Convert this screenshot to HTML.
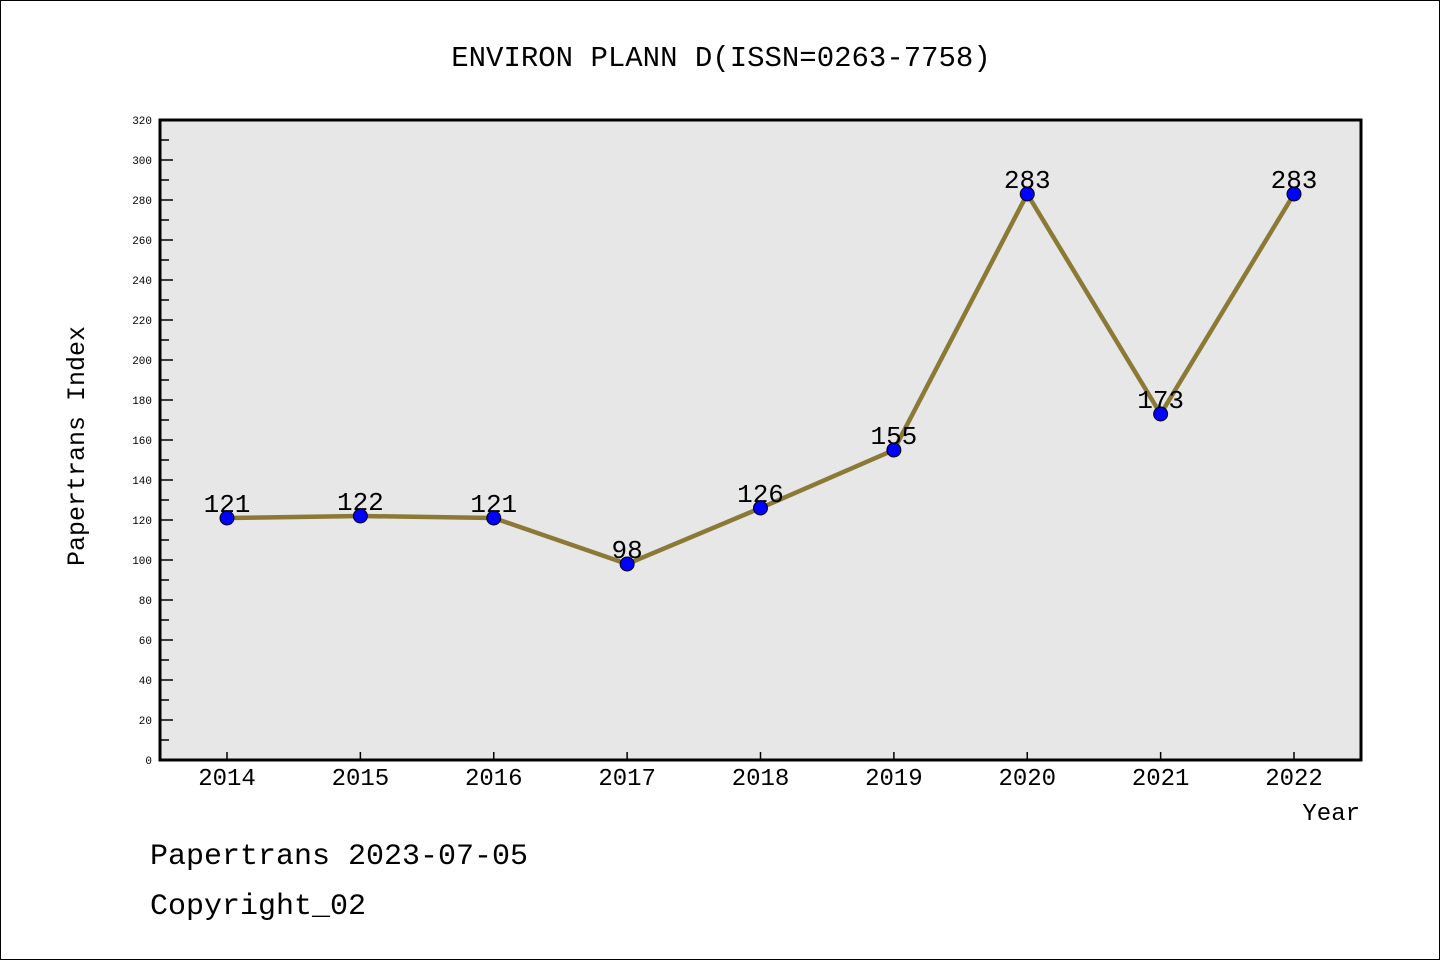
<!DOCTYPE html>
<html><head><meta charset="utf-8"><style>
body{margin:0;background:#fff}
svg text{font-family:"Liberation Mono","DejaVu Sans Mono",monospace}
</style></head><body>
<svg width="1440" height="960" xmlns="http://www.w3.org/2000/svg">
<rect x="0.5" y="0.5" width="1439" height="959" fill="#fff" stroke="#000"/>
<text x="721" y="66" font-size="29" text-anchor="middle">ENVIRON PLANN D(ISSN=0263-7758)</text>
<rect x="160" y="120" width="1201" height="640" fill="#e7e7e7" stroke="#000" stroke-width="3"/>
<g id="yticks"></g>
<g id="xticks"></g>
<g id="series"></g>
<text transform="translate(84,446) rotate(-90)" font-size="25" text-anchor="middle">Papertrans Index</text>
<text x="1360" y="820" font-size="24" text-anchor="end">Year</text>
<text x="150" y="864" font-size="30">Papertrans 2023-07-05</text>
<text x="150" y="914" font-size="30">Copyright_02</text>
</svg>
<script>
const years=["2014","2015","2016","2017","2018","2019","2020","2021","2022"];
const values=[121,122,121,98,126,155,283,173,283];
const yTicks=[0,20,40,60,80,100,120,140,160,180,200,220,240,260,280,300,320];
const NS="http://www.w3.org/2000/svg";
const y=v=>760-v*2;
const x=i=>227+i*(1294-227)/8;
function mk(t,a,p){const e=document.createElementNS(NS,t);for(const k in a)e.setAttribute(k,a[k]);p.appendChild(e);return e;}
const yg=document.getElementById('yticks');
yTicks.forEach(v=>{
  const l=mk('line',{x1:160,x2:173,y1:y(v),y2:y(v),stroke:'#000','stroke-width':1.5},yg);
  
  
  if(v<320){const m=mk('line',{x1:160,x2:169,y1:y(v+10),y2:y(v+10),stroke:'#000','stroke-width':1.5},yg);
  
  }
  const t=mk('text',{x:152,y:y(v)+4,'font-size':11,'text-anchor':'end'},yg);t.textContent=v;
  
  
});
const xg=document.getElementById('xticks');
years.forEach((yr,i)=>{
  const l=mk('line',{x1:x(i),x2:x(i),y1:760,y2:752,stroke:'#000','stroke-width':1.5},xg);
  
  
  const t=mk('text',{x:x(i),y:785,'font-size':24,'text-anchor':'middle'},xg);t.textContent=yr;
  
  
});
const sg=document.getElementById('series');
const pl=mk('polyline',{points:values.map((v,i)=>x(i)+','+y(v)).join(' '),fill:'none',stroke:'#8b7a35','stroke-width':4.5},sg);


values.forEach((v,i)=>{
  const c=mk('circle',{cx:x(i),cy:y(v),r:7,fill:'#0000ff',stroke:'#000','stroke-width':1},sg);
  
  
  const t=mk('text',{x:x(i),y:y(v)-6,'font-size':26,'text-anchor':'middle'},sg);t.textContent=v;
  
  
});
</script>
</body></html>
